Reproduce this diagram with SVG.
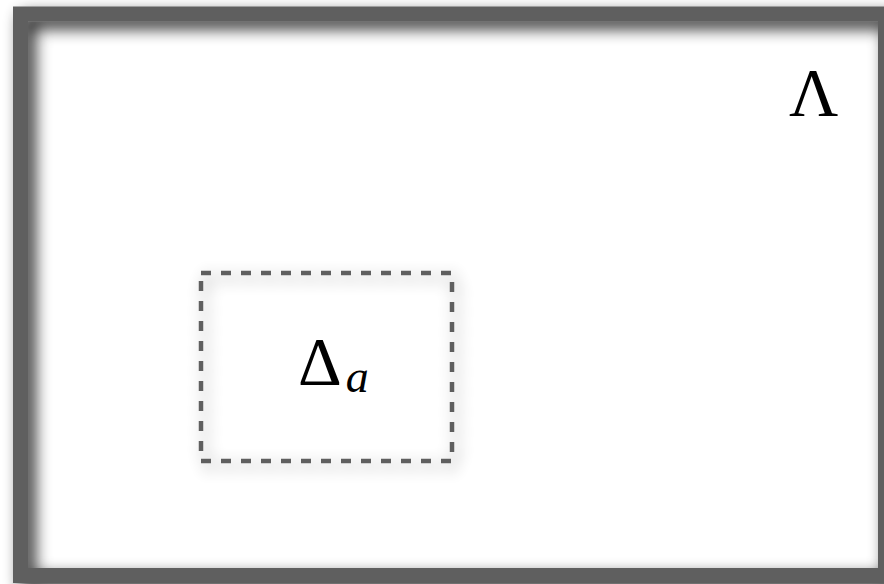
<svg xmlns="http://www.w3.org/2000/svg" width="884" height="584" viewBox="0 0 884 584">
<defs>
<filter id="sh" x="-10%" y="-10%" width="120%" height="120%">
<feGaussianBlur in="SourceAlpha" stdDeviation="8"/>
<feOffset dx="7" dy="7" result="b"/>
<feComponentTransfer><feFuncA type="linear" slope="0.85"/></feComponentTransfer>
<feMerge><feMergeNode/><feMergeNode in="SourceGraphic"/></feMerge>
</filter>
<filter id="sh2" x="-20%" y="-20%" width="140%" height="140%">
<feGaussianBlur in="SourceAlpha" stdDeviation="8"/>
<feOffset dx="4" dy="5" result="b"/>
<feComponentTransfer><feFuncA type="linear" slope="0.45"/></feComponentTransfer>
<feMerge><feMergeNode/><feMergeNode in="SourceGraphic"/></feMerge>
</filter>
<style>
.frame{fill:none;stroke:#5e5e5e;stroke-width:15}
.dash{fill:none;stroke:#5e5e5e;stroke-width:4.5;stroke-dasharray:10 10}
.lbl{font-family:"Liberation Serif","DejaVu Serif",serif;fill:#000}
</style>
</defs>
<rect x="0" y="0" width="884" height="584" fill="#fff"/>
<g id="outer">
<rect class="frame" x="20.5" y="14" width="865" height="561.5" filter="url(#sh)"/>
<text class="lbl" x="789" y="115" font-size="68">Λ</text>
</g>
<g id="inner">
<rect class="dash" x="201" y="273" width="251" height="188" filter="url(#sh2)"/>
<text class="lbl" x="298" y="384" font-size="68">Δ<tspan font-style="italic" font-size="46" dx="4" dy="8">a</tspan></text>
</g>
<g id="connectors"/>
</svg>
